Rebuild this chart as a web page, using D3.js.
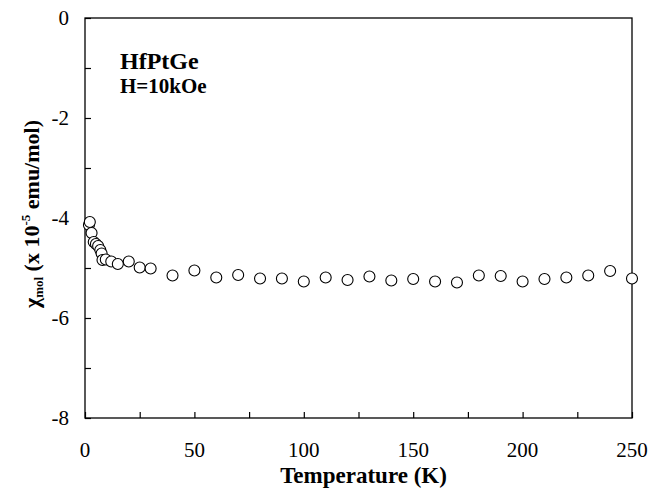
<!DOCTYPE html>
<html>
<head>
<meta charset="utf-8">
<script src="https://cdn.jsdelivr.net/npm/d3@7"></script>
<style>
  body { margin: 0; background: #fff; }
  svg { display: block; }
</style>
</head>
<body>
<svg id="chart"></svg>
<script>
// HfPtGe molar susceptibility vs temperature, H = 10 kOe

var width = 650,
    height = 493;

var margin = {top: 18, right: 18, bottom: 75, left: 85};
var serif = "'Liberation Serif'";

// temperature (K)
var temps = [1.8, 2.2, 3, 4, 5, 6, 7, 7.6, 8, 9.5, 12, 15, 20, 25, 30,
             40, 50, 60, 70, 80, 90, 100, 110, 120, 130, 140, 150,
             160, 170, 180, 190, 200, 210, 220, 230, 240, 250];
// chi_mol (x 10^-5 emu/mol)
var chi = [-4.14, -4.08, -4.3, -4.48, -4.52, -4.56, -4.64, -4.71, -4.84, -4.83, -4.87, -4.92, -4.87, -4.99, -5.01,
           -5.15, -5.05, -5.19, -5.14, -5.21, -5.21, -5.27, -5.19, -5.24, -5.17, -5.25, -5.22,
           -5.27, -5.29, -5.15, -5.16, -5.27, -5.22, -5.19, -5.15, -5.06, -5.21];

var xTicks = [0, 50, 100, 150, 200, 250];
var xMinor = d3.range(0, 251, 25);
var yTicks = [0, -2, -4, -6, -8];
var yMinor = d3.range(-8, 0.5, 1);

var svg = d3.select('#chart')
            .attr('width', width)
            .attr('height', height);

var x = d3.scaleLinear()
  .domain([0, 250])
  .range([margin.left, width - margin.right]);

var y = d3.scaleLinear()
  .domain([-8, 0])
  .range([height - margin.bottom, margin.top]);

// frame
svg.append('rect')
  .attr('x', x(0))
  .attr('y', y(0))
  .attr('width', x(250) - x(0))
  .attr('height', y(-8) - y(0))
  .attr('fill', 'none')
  .attr('stroke', '#000')
  .attr('stroke-width', 1.3);

// inward ticks, bottom
svg.append('g')
  .attr('transform', 'translate(0,' + y(-8) + ')')
  .call(d3.axisBottom(x).tickValues(xMinor).tickSizeInner(-6).tickSizeOuter(0).tickFormat(''))
  .call(g => g.select('.domain').remove())
  .call(g => g.selectAll('line').attr('stroke-width', 1.2));

// inward ticks, left
svg.append('g')
  .attr('transform', 'translate(' + x(0) + ',0)')
  .call(d3.axisLeft(y).tickValues(yMinor).tickSizeInner(-6).tickSizeOuter(0).tickFormat(''))
  .call(g => g.select('.domain').remove())
  .call(g => g.selectAll('line').attr('stroke-width', 1.2));

// tick labels
svg.append('g').selectAll('text')
  .data(xTicks)
  .enter()
  .append('text')
    .attr('x', d => x(d))
    .attr('y', 457)
    .attr('text-anchor', 'middle')
    .style('font-family', serif)
    .style('font-size', '21px')
    .text(d => d);

svg.append('g').selectAll('text')
  .data(yTicks)
  .enter()
  .append('text')
    .attr('x', 69)
    .attr('y', d => y(d))
    .attr('dy', '0.35em')
    .attr('text-anchor', 'end')
    .style('font-family', serif)
    .style('font-size', '21px')
    .text(d => d);

// data points
svg.append('g').selectAll('circle')
  .data(temps.map((t, i) => [t, chi[i]]))
  .enter()
  .append('circle')
    .attr('cx', d => x(d[0]))
    .attr('cy', d => y(d[1]))
    .attr('r', 5.5)
    .attr('fill', '#fff')
    .attr('stroke', '#000')
    .attr('stroke-width', 1.1);

// labels inside the plot
svg.append('text')
  .attr('x', 120)
  .attr('y', 69)
  .style('font-family', serif)
  .style('font-size', '24px')
  .style('font-weight', 'bold')
  .text('HfPtGe');

svg.append('text')
  .attr('x', 120)
  .attr('y', 93)
  .style('font-family', serif)
  .style('font-size', '21px')
  .style('font-weight', 'bold')
  .text('H=10kOe');

// x title
svg.append('text')
  .attr('x', (x(0) + x(250)) / 2 + 5)
  .attr('y', 483)
  .attr('text-anchor', 'middle')
  .style('font-family', serif)
  .style('font-size', '23px')
  .style('font-weight', 'bold')
  .text('Temperature (K)');

// y title
var yt = svg.append('text')
  .attr('transform', 'translate(39,214) rotate(-90)')
  .attr('text-anchor', 'middle')
  .style('font-family', serif)
  .style('font-size', '22px')
  .style('font-weight', 'bold');
yt.append('tspan').text('\u03c7');
yt.append('tspan').attr('dy', 4).style('font-size', '13px').text('mol');
yt.append('tspan').attr('dy', -4).text(' (x 10');
yt.append('tspan').attr('dy', -9).style('font-size', '13px').text('-5');
yt.append('tspan').attr('dy', 9).text(' emu/mol)');
</script>
</body>
</html>
